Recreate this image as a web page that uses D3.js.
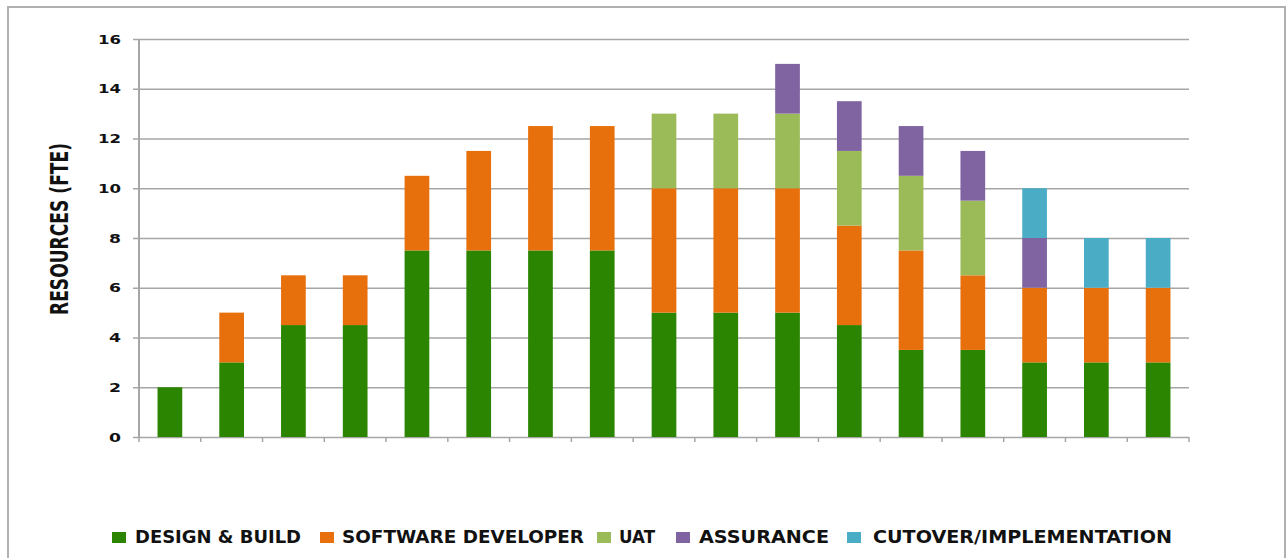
<!DOCTYPE html>
<html>
  <head>
    <meta http-equiv="Content-Type" content="text/html;charset=utf-8"/>
    <script src="https://d3js.org/d3.v7.min.js"></script>
    <style type="text/css">
      body { margin: 0; background: #fff; }
      text { font-family: "DejaVu Sans", sans-serif; font-weight: bold; fill: #111; }
    </style>
  </head>
  <body>
    <div id="chart"></div>

    <script type="text/javascript">
	  // one column per period, 17 in all
	  var periods = d3.range(1, 18).map(function(d) { return "P" + d; });
	  var series = ["DESIGN & BUILD", "SOFTWARE DEVELOPER", "UAT", "ASSURANCE", "CUTOVER/IMPLEMENTATION"];
	  var colors = ["#2b8500", "#e8700c", "#9bbb59", "#8064a2", "#4bacc6"];

	  var designBuild = [2, 3, 4.5, 4.5, 7.5, 7.5, 7.5, 7.5, 5, 5, 5, 4.5, 3.5, 3.5, 3, 3, 3];
	  var softwareDev = [0, 2, 2, 2, 3, 4, 5, 5, 5, 5, 5, 4, 4, 3, 3, 3, 3];
	  var uat         = [0, 0, 0, 0, 0, 0, 0, 0, 3, 3, 3, 3, 3, 3, 0, 0, 0];
	  var assurance   = [0, 0, 0, 0, 0, 0, 0, 0, 0, 0, 2, 2, 2, 2, 2, 0, 0];
	  var cutover     = [0, 0, 0, 0, 0, 0, 0, 0, 0, 0, 0, 0, 0, 0, 2, 2, 2];
	  var yTicks = [0, 2, 4, 6, 8, 10, 12, 14, 16];

	  var W = 1287, H = 558;
	  var m = {left: 139, right: 98, top: 39, bottom: 121};

	  var svg = d3.select('#chart').append('svg').attr('width', W).attr('height', H);

	  // outer frame
	  svg.append('rect').attr('x', 8).attr('y', 7).attr('width', 1277).attr('height', 560)
	     .attr('fill', 'none').attr('stroke', '#b0b0b0').attr('stroke-width', 2);

	  var rows = periods.map(function(p, i) {
		return {p: p, "DESIGN & BUILD": designBuild[i], "SOFTWARE DEVELOPER": softwareDev[i],
		        "UAT": uat[i], "ASSURANCE": assurance[i], "CUTOVER/IMPLEMENTATION": cutover[i]};
	  });
	  var stacked = d3.stack().keys(series)(rows);

	  var x = d3.scaleBand().domain(periods).range([m.left, W - m.right]).paddingInner(0.6).paddingOuter(0.3);
	  var y = d3.scaleLinear().domain([0, 16]).range([H - m.bottom, m.top]);

	  // gridlines + y axis
	  var yAxis = svg.append('g').attr('transform', 'translate(' + m.left + ',0)')
		.call(d3.axisLeft(y).tickValues(yTicks).tickSize(-(W - m.right - m.left)).tickSizeOuter(0).tickPadding(18));
	  yAxis.select('.domain').remove();
	  yAxis.selectAll('.tick line').attr('stroke', '#a6a6a6').attr('stroke-width', 1.6).attr('x1', -6);
	  yAxis.selectAll('.tick text').style('font-size', '13px').style('font-family', '"DejaVu Sans", sans-serif')
		.style('font-weight', 'bold').attr('fill', '#111')
		.attr('textLength', function(d) { return String(d).length > 1 ? 23 : 12; })
		.attr('lengthAdjust', 'spacingAndGlyphs');
	  svg.append('line').attr('x1', m.left).attr('x2', m.left).attr('y1', y(0)).attr('y2', y(16))
		.attr('stroke', '#a6a6a6').attr('stroke-width', 2);

	  // category boundary ticks along the bottom
	  var step = x.step();
	  var bounds = d3.range(0, periods.length + 1).map(function(i) { return m.left + i * step; });
	  svg.append('g').selectAll('line').data(bounds).enter().append('line')
		.attr('x1', function(d) { return d; }).attr('x2', function(d) { return d; })
		.attr('y1', y(0)).attr('y2', y(0) + 5).attr('stroke', '#a6a6a6').attr('stroke-width', 1.5);

	  // bars
	  svg.append('g').selectAll('g').data(stacked).enter().append('g')
		.attr('fill', function(d, i) { return colors[i]; })
		.selectAll('rect').data(function(d) { return d; }).enter().append('rect')
		.attr('x', function(d) { return x(d.data.p); })
		.attr('width', x.bandwidth())
		.attr('y', function(d) { return y(d[1]); })
		.attr('height', function(d) { return y(d[0]) - y(d[1]); });

	  // y label
	  svg.append('text').attr('transform', 'translate(68,229) rotate(-90)')
		.attr('text-anchor', 'middle').style('font-size', '25px')
		.style('font-family', '"DejaVu Sans Condensed", "DejaVu Sans", sans-serif')
		.attr('textLength', 172).attr('lengthAdjust', 'spacingAndGlyphs')
		.text('RESOURCES (FTE)');

	  // legend
	  var legBox = [112, 320, 597, 676, 847];
	  var legTxt = [135, 342, 619, 699, 873];
	  var legW = [166, 242, 36, 130, 299];
	  var leg = svg.append('g').selectAll('g').data(series).enter().append('g');
	  leg.append('rect').attr('x', function(d, i) { return legBox[i]; }).attr('y', 532)
		.attr('width', 14).attr('height', 11).attr('fill', function(d, i) { return colors[i]; });
	  leg.append('text').attr('x', function(d, i) { return legTxt[i]; }).attr('y', 543).style('font-size', '17px')
		.attr('textLength', function(d, i) { return legW[i]; }).attr('lengthAdjust', 'spacingAndGlyphs')
		.text(function(d) { return d; });
    </script>
  </body>
</html>
